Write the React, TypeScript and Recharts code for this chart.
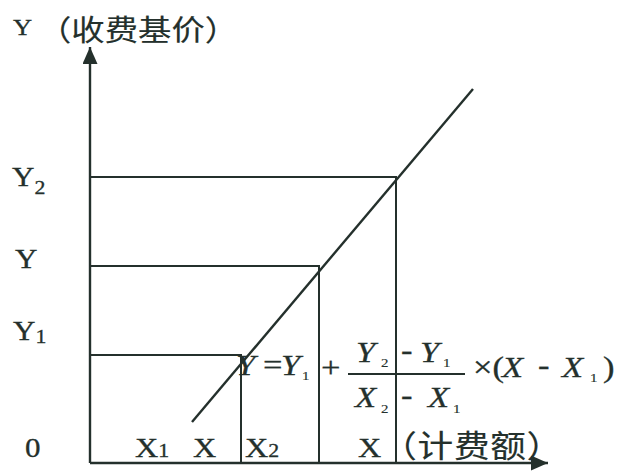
import React from "react";
import { LineChart, Line, XAxis, YAxis } from "recharts";

const W = 619;
const H = 471;
const INK = "#24302c";
const SERIF = "'Liberation Serif', 'Times New Roman', serif";
const CJK = "'Noto Sans CJK SC', sans-serif";
const SX = 1.15; // the scan is a bit wider than tall

// drop-line positions on x (X2, X, X'), levels on y (Y1, Y, Y2)
const dropX = [151, 229, 306];
const levelY = [108, 197, 286];
// the price line
const priceLine = [
  { x: 102, y: 41 },
  { x: 383, y: 374 },
];

const yTicks = [0, 108, 197, 286];
const yTickMain = ["0", "Y", "Y", "Y"];
const yTickSub = ["", "1", "", "2"];

const xTicks = [45, 103, 155, 268];
const xTickMain = ["X", "X", "X", "X"];
const xTickSub = ["1", "", "2", ""];
const xTickTail = ["", "", "", "（计费额）"];

const brackets = dropX.map((x, i) => [
  { x: 0, y: levelY[i] },
  { x, y: levelY[i] },
  { x, y: 0 },
]);

type TProps = {
  x: number;
  y: number;
  size: number;
  family?: string;
  italic?: boolean;
  spacing?: number;
  weight?: number;
  children: React.ReactNode;
};

function T({ x, y, size, family = SERIF, italic = false, spacing, weight = 0.3, children }: TProps) {
  return (
    <text
      transform={`translate(${x},${y}) scale(${SX},1)`}
      fontFamily={family}
      fontSize={size}
      fontStyle={italic ? "italic" : "normal"}
      letterSpacing={spacing}
      fill={INK}
      stroke={INK}
      strokeWidth={weight}
    >
      {children}
    </text>
  );
}

// label placement relative to each y tick (the scan's labels sit off their lines)
const yLabelDx = [-65, -77, -75, -78];
const yLabelDy = [-6, -15, 2, 9];
const ySubDy = [0, 3, 0, 8];

function YTick(props: any) {
  const i = props.index;
  const x = props.x + yLabelDx[i];
  const y = props.y + yLabelDy[i];
  return (
    <T x={x} y={y} size={27}>
      {yTickMain[i]}
      {yTickSub[i] && (
        <tspan fontSize={19} dy={ySubDy[i]}>
          {yTickSub[i]}
        </tspan>
      )}
    </T>
  );
}

function XTick(props: any) {
  const i = props.index;
  return (
    <T x={props.x} y={props.y - 6} size={28}>
      {xTickMain[i]}
      {xTickSub[i] && <tspan fontSize={19}>{xTickSub[i]}</tspan>}
      {xTickTail[i] && (
        <tspan fontFamily={CJK} fontSize={31} letterSpacing={0.6} strokeWidth={0.15}>
          {xTickTail[i]}
        </tspan>
      )}
    </T>
  );
}

function Formula() {
  const f = 30;
  const s = 13;
  return (
    <g>
      <T x={236} y={375} size={f} italic>Y</T>
      <T x={263} y={375} size={f}>=</T>
      <T x={281} y={375} size={f} italic>Y</T>
      <T x={302} y={380} size={s} weight={0.15}>1</T>
      <T x={321} y={377} size={f}>+</T>

      <T x={356} y={362} size={f} italic>Y</T>
      <T x={381} y={367} size={s} weight={0.15}>2</T>
      <T x={401} y={360} size={f}>-</T>
      <T x={420} y={362} size={f} italic>Y</T>
      <T x={443} y={367} size={s} weight={0.15}>1</T>

      <line x1={348} y1={374} x2={465} y2={374} stroke={INK} strokeWidth={1.8} />

      <T x={355} y={407} size={f} italic>X</T>
      <T x={381} y={413} size={s} weight={0.15}>2</T>
      <T x={401} y={405} size={f}>-</T>
      <T x={428} y={407} size={f} italic>X</T>
      <T x={453} y={413} size={s} weight={0.15}>1</T>

      <T x={473} y={377} size={f}>×(</T>
      <T x={502} y={377} size={f} italic>X</T>
      <T x={538} y={375} size={f}>-</T>
      <T x={562} y={377} size={f} italic>X</T>
      <T x={590} y={382} size={s} weight={0.15}>1</T>
      <T x={603} y={377} size={f}>)</T>
    </g>
  );
}

export default function App() {
  return (
    <div style={{ position: "absolute", left: 0, top: 0, width: W, height: H, background: "#fff" }}>
      <LineChart width={W} height={H} margin={{ top: 47, right: 71, bottom: 0, left: 0 }}>
        <defs>
          <marker
            id="arrowHead"
            viewBox="0 0 17 15"
            refX={17}
            refY={7.5}
            markerWidth={17}
            markerHeight={15}
            markerUnits="userSpaceOnUse"
            orient="auto-start-reverse"
          >
            <path d="M0,0 L17,7.5 L0,15 z" fill={INK} />
          </marker>
        </defs>
        <XAxis
          type="number"
          dataKey="x"
          domain={[0, 458]}
          ticks={xTicks}
          interval={0}
          height={8}
          tickSize={0}
          tickMargin={0}
          tickLine={false}
          allowDataOverflow
          axisLine={{ stroke: INK, strokeWidth: 2.4, markerEnd: "url(#arrowHead)" }}
          tick={(p: any) => <XTick {...p} />}
        />
        <YAxis
          type="number"
          dataKey="y"
          domain={[0, 416]}
          ticks={yTicks}
          interval={0}
          width={90}
          tickSize={0}
          tickMargin={0}
          tickLine={false}
          allowDataOverflow
          axisLine={{ stroke: INK, strokeWidth: 2.4, markerStart: "url(#arrowHead)" }}
          tick={(p: any) => <YTick {...p} />}
        />
        {brackets.map((b, i) => (
          <Line
            key={i}
            data={b}
            dataKey="y"
            type="linear"
            stroke={INK}
            strokeWidth={2}
            dot={false}
            activeDot={false}
            isAnimationActive={false}
          />
        ))}
        <Line
          data={priceLine}
          dataKey="y"
          type="linear"
          stroke={INK}
          strokeWidth={2.4}
          dot={false}
          activeDot={false}
          isAnimationActive={false}
        />
        <Formula />
        <T x={13} y={35} size={23}>Y</T>
        <T x={38} y={41} size={29} family={CJK} weight={0.15}>（收费基价）</T>
      </LineChart>
    </div>
  );
}
